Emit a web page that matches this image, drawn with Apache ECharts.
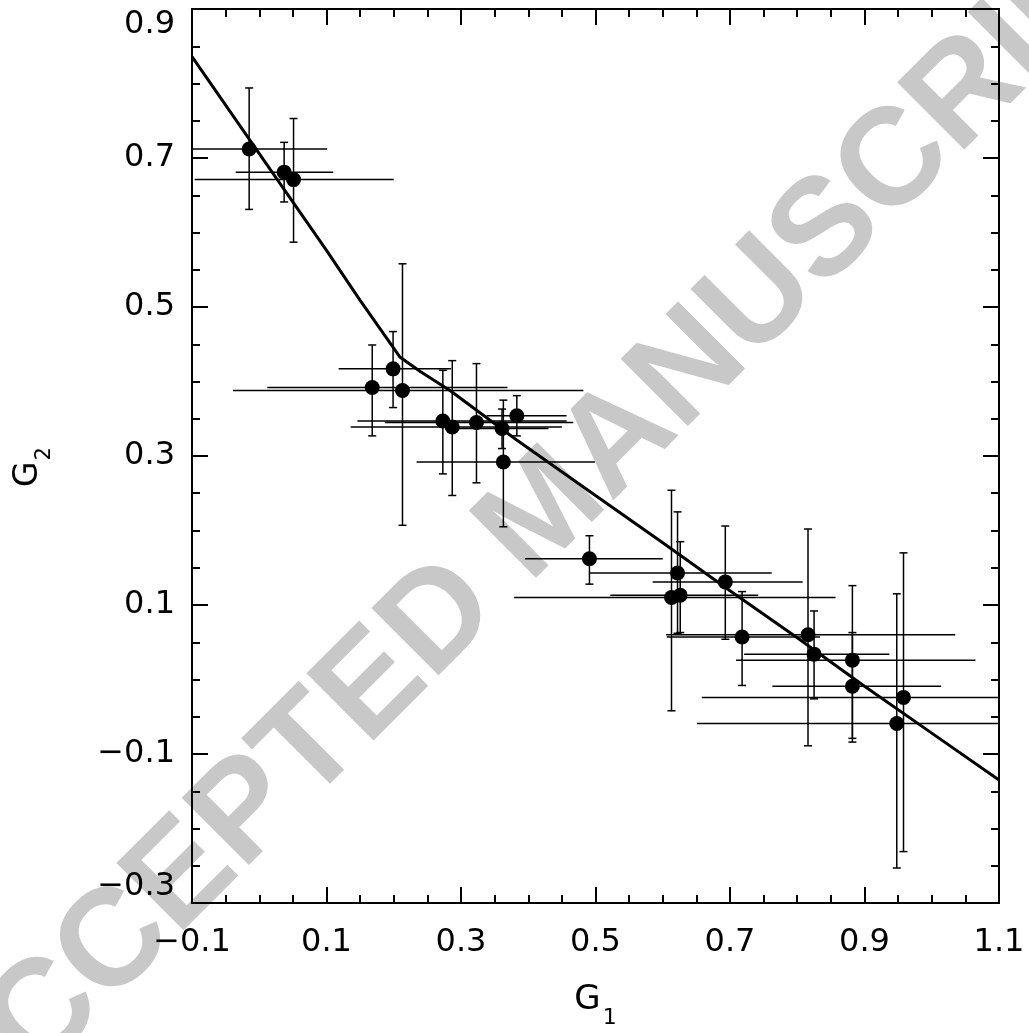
<!DOCTYPE html>
<html>
<head>
<meta charset="utf-8">
<script src="https://cdn.jsdelivr.net/npm/echarts@6/dist/echarts.min.js"></script>
<style>
html,body{margin:0;padding:0;background:#fff;}
#chart{width:1029px;height:1033px;}
</style>
</head>
<body>
<div id="chart"></div>
<script>
// ---- data ----
const xTickLabels = ['\u22120.1','0.1','0.3','0.5','0.7','0.9','1.1'];
const yTickLabels = ['\u22120.3','\u22120.1','0.1','0.3','0.5','0.7','0.9'];

const g1   = [-0.015,0.037,0.051,0.168,0.199,0.213,0.273,0.287,0.323,0.361,0.383,0.363,0.491,0.622,0.613,0.626,0.693,0.718,0.816,0.825,0.882,0.882,0.948,0.958];
const g2   = [0.712,0.681,0.671,0.392,0.417,0.388,0.347,0.339,0.345,0.337,0.354,0.292,0.162,0.143,0.110,0.113,0.131,0.057,0.060,0.034,0.026,-0.009,-0.059,-0.024];
const g1Lo = [-0.131,-0.035,-0.096,0.012,0.118,-0.039,0.146,0.136,0.187,0.292,0.338,0.234,0.395,0.492,0.379,0.522,0.585,0.606,0.605,0.721,0.709,0.763,0.651,0.658];
const g1Hi = [0.101,0.110,0.200,0.369,0.285,0.482,0.457,0.450,0.467,0.430,0.457,0.499,0.600,0.762,0.857,0.742,0.808,0.834,1.035,0.937,1.065,1.014,1.245,1.257];
const g2Lo = [0.631,0.641,0.587,0.327,0.365,0.207,0.276,0.247,0.264,0.310,0.327,0.205,0.128,0.062,-0.042,0.063,0.054,-0.008,-0.089,-0.026,-0.084,-0.079,-0.253,-0.231];
const g2Hi = [0.794,0.721,0.753,0.449,0.467,0.558,0.415,0.428,0.424,0.363,0.381,0.375,0.193,0.225,0.254,0.185,0.206,0.118,0.202,0.092,0.126,0.063,0.115,0.170];

const fitG1 = [-0.1,0.0,0.1,0.15,0.209,0.24,0.2836,0.3828,0.5,0.6,0.7,0.8,0.9,1.0,1.1];
const fitG2 = [0.836,0.706,0.576,0.509,0.433,0.413,0.388,0.3215,0.247,0.1835,0.119,0.056,-0.009,-0.072,-0.135];

const X_MIN = -0.1, X_MAX = 1.1, Y_MIN = -0.3, Y_MAX = 0.9, STEP = 0.2;

// ---- build ----
const points = g1.map((x, i) => [x, g2[i]]);
const errData = g1.map((x, i) => [x, g2[i], g1Lo[i], g1Hi[i], g2Lo[i], g2Hi[i]]);
const fitData = fitG1.map((x, i) => [x, fitG2[i]]);

const FONT = '"DejaVu Sans", sans-serif';
function labelFor(arr, min) {
  return function (v) {
    const k = Math.round((v - min) / STEP);
    return arr[k] !== undefined ? arr[k] : '';
  };
}

const baseAxisLine = { show: true, onZero: false, lineStyle: { color: '#000', width: 2 } };
const tick = { show: true, inside: true, length: 16, lineStyle: { color: '#000', width: 2 } };
const minor = { show: true, splitNumber: 4, length: 8, lineStyle: { color: '#000', width: 2 } };
const xNameRich = {
  g: { fontFamily: FONT, fontSize: 34, color: '#000', verticalAlign: 'top', lineHeight: 40 },
  s: { fontFamily: FONT, fontSize: 22, color: '#000', verticalAlign: 'top', lineHeight: 26, padding: [24, 0, 0, 2] }
};
const yNameRich = {
  g: { fontFamily: FONT, fontSize: 33, color: '#000', verticalAlign: 'top', lineHeight: 40 },
  s: { fontFamily: FONT, fontSize: 21, color: '#000', verticalAlign: 'top', lineHeight: 26, padding: [22, 22, 0, 1] }
};

const chart = echarts.init(document.getElementById('chart'), null, { renderer: 'canvas' });

chart.setOption({
  animation: false,
  backgroundColor: '#fff',
  grid: { left: 192, top: 9, right: 30, bottom: 130, containLabel: false, outerBoundsMode: 'none' },
  graphic: [{
    type: 'text',
    x: 546, y: 514,
    rotation: Math.PI / 4,
    z: -10,
    silent: true,
    style: {
      text: 'ACCEPTED MANUSCRIPT',
      fontFamily: '"Liberation Sans", Arial, sans-serif',
      fontWeight: 'bold',
      fontSize: 138,
      fill: '#c8c8c8',
      align: 'center',
      verticalAlign: 'middle'
    }
  }],
  xAxis: [{
    type: 'value', position: 'bottom', min: X_MIN, max: X_MAX, interval: STEP,
    axisLine: baseAxisLine, axisTick: tick, minorTick: minor,
    splitLine: { show: false }, minorSplitLine: { show: false },
    axisLabel: { show: true, margin: 24, color: '#000', fontFamily: FONT, fontSize: 32,
      formatter: labelFor(xTickLabels, X_MIN) },
    name: '{g|G}{s|1}', nameLocation: 'middle', nameGap: 80,
    nameTextStyle: { color: '#000', rich: xNameRich }
  }, {
    type: 'value', position: 'top', min: X_MIN, max: X_MAX, interval: STEP,
    axisLine: baseAxisLine, axisTick: tick, minorTick: minor,
    splitLine: { show: false }, axisLabel: { show: false }
  }],
  yAxis: [{
    type: 'value', position: 'left', min: Y_MIN, max: Y_MAX, interval: STEP,
    axisLine: baseAxisLine, axisTick: tick, minorTick: minor,
    splitLine: { show: false }, minorSplitLine: { show: false },
    axisLabel: { show: true, margin: 17, color: '#000', fontFamily: FONT, fontSize: 32,
      verticalAlignMinLabel: 'bottom', verticalAlignMaxLabel: 'top',
      formatter: labelFor(yTickLabels, Y_MIN) },
    name: '{g|G}{s|2}', nameLocation: 'middle', nameGap: 140, nameRotate: 90,
    nameTextStyle: { color: '#000', rich: yNameRich }
  }, {
    type: 'value', position: 'right', min: Y_MIN, max: Y_MAX, interval: STEP,
    axisLine: baseAxisLine, axisTick: tick, minorTick: minor,
    splitLine: { show: false }, axisLabel: { show: false }
  }],
  series: [{
    type: 'custom',
    xAxisIndex: 0, yAxisIndex: 0,
    clip: true,
    z: 3,
    data: errData,
    renderItem: function (params, api) {
      const x = api.value(0), y = api.value(1);
      const xl = api.value(2), xh = api.value(3), yl = api.value(4), yh = api.value(5);
      const pL = api.coord([xl, y]), pR = api.coord([xh, y]);
      const pB = api.coord([x, yl]), pT = api.coord([x, yh]);
      const cs = params.coordSys;
      const lx = Math.max(pL[0], cs.x), rx = Math.min(pR[0], cs.x + cs.width);
      const st = { stroke: '#000', lineWidth: 1.5 };
      const cap = 4;
      return {
        type: 'group',
        children: [
          { type: 'line', shape: { x1: lx, y1: pL[1], x2: rx, y2: pR[1] }, style: st },
          { type: 'line', shape: { x1: pB[0], y1: pB[1], x2: pT[0], y2: pT[1] }, style: st },
          { type: 'line', shape: { x1: pB[0] - cap, y1: pB[1], x2: pB[0] + cap, y2: pB[1] }, style: st },
          { type: 'line', shape: { x1: pT[0] - cap, y1: pT[1], x2: pT[0] + cap, y2: pT[1] }, style: st }
        ]
      };
    }
  }, {
    type: 'line',
    xAxisIndex: 0, yAxisIndex: 0,
    data: fitData,
    showSymbol: false,
    smooth: false,
    z: 4,
    lineStyle: { color: '#000', width: 3 }
  }, {
    type: 'scatter',
    xAxisIndex: 0, yAxisIndex: 0,
    data: points,
    symbol: 'circle',
    symbolSize: 15,
    z: 5,
    itemStyle: { color: '#000', opacity: 1 }
  }]
});
</script>
</body>
</html>
